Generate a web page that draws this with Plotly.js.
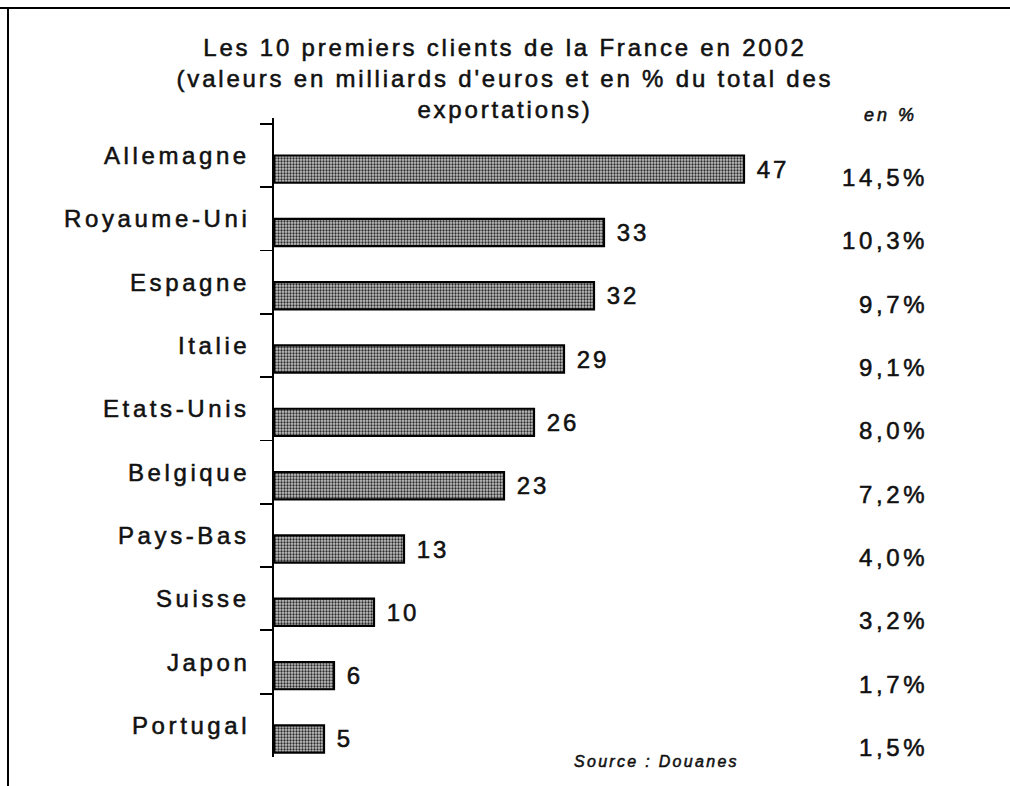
<!DOCTYPE html>
<html>
<head>
<meta charset="utf-8">
<script src="https://cdn.plot.ly/plotly-3.0.1.min.js"></script>
<style>
html,body{margin:0;padding:0;background:#fff;}
#chart{width:1010px;height:786px;}
#chart text{stroke:#111;stroke-width:0.55px;}
</style>
</head>
<body>
<div id="chart"></div>
<script>
var countries = ["Allemagne","Royaume-Uni","Espagne","Italie","Etats-Unis","Belgique","Pays-Bas","Suisse","Japon","Portugal"];
var values = [47,33,32,29,26,23,13,10,6,5];
var shares = ["14,5%","10,3%","9,7%","9,1%","8,0%","7,2%","4,0%","3,2%","1,7%","1,5%"];
var titleLines = ["Les 10 premiers clients de la France en 2002","(valeurs en milliards d'euros et en % du total des","exportations)"];
var shareHeader = "en %";
var sourceText = "Source : Douanes";

var W = 1010, H = 786;
var M = {l:274, r:136, t:118, b:29};
var pw = W - M.l - M.r, ph = H - M.t - M.b;
function px(x){ return (x - M.l)/pw; }
function py(y){ return (H - M.b - y)/ph; }
function sp(t, s){ return '<span style="letter-spacing:' + s + 'px">' + t + '</span>'; }

var font = "Arial, 'Liberation Sans', sans-serif";

var trace = {
  type: 'bar',
  orientation: 'h',
  x: values,
  y: countries,
  offset: 0.0,
  width: 0.43,
  text: values.map(function(v){ return sp('\u00a0' + String(v), 3); }),
  textposition: 'outside',
  textfont: {family: font, size: 24, color: '#111'},
  cliponaxis: false,
  marker: {
    color: '#bdbdbd',
    line: {color: '#000', width: 2.2},
    pattern: {shape: '.', fgcolor: '#2a2a2a', bgcolor: '#c4c4c4', size: 3, solidity: 0.45}
  },
  hoverinfo: 'skip'
};

var ann = [];
countries.forEach(function(c){
  ann.push({xref:'paper', yref:'y', x: px(252), y: c, xanchor:'right', yanchor:'middle',
    yshift: 0, showarrow:false, text: sp(c, 3.6), font:{family:font, size:24, color:'#111'}});
});
countries.forEach(function(c, i){
  ann.push({xref:'paper', yref:'y', x: px(930), y: c, xanchor:'right', yanchor:'middle',
    yshift: -22, showarrow:false, text: sp(shares[i], 3.6), font:{family:font, size:24, color:'#111'}});
});
ann.push({xref:'paper', yref:'paper', x: px(890), y: py(115), xanchor:'center', yanchor:'middle',
  showarrow:false, text: '<i>' + sp(shareHeader, 3) + '</i>', font:{family:font, size:18, color:'#111'}});
ann.push({xref:'paper', yref:'paper', x: px(741), y: py(761), xanchor:'right', yanchor:'middle',
  showarrow:false, text: '<i>' + sp(sourceText, 2.3) + '</i>', font:{family:font, size:16, color:'#111'}});

var layout = {
  width: W, height: H,
  margin: M,
  paper_bgcolor: '#fff', plot_bgcolor: '#fff',
  showlegend: false,
  title: {
    text: titleLines.map(function(t){ return sp(t, 2.8); }).join('<br>'),
    font: {family: font, size: 24, color: '#111'},
    x: 0.5, xref: 'container', xanchor: 'center',
    y: 1 - 56/H, yref: 'container', yanchor: 'top'
  },
  xaxis: {range: [0, 60], visible: false, showgrid: false, zeroline: false, fixedrange: true},
  yaxis: {
    type: 'category', autorange: 'reversed',
    showline: true, linecolor: '#000', linewidth: 1.8,
    ticks: 'outside', tickson: 'boundaries', ticklen: 12, tickwidth: 1.8, tickcolor: '#000',
    showticklabels: false, showgrid: false, zeroline: false, fixedrange: true
  },
  annotations: ann,
  shapes: [
    {type:'line', xref:'paper', yref:'paper', x0: px(0), x1: px(1010), y0: py(8), y1: py(8), line:{color:'#000', width:2}},
    {type:'line', xref:'paper', yref:'paper', x0: px(8), x1: px(8), y0: py(8), y1: py(786), line:{color:'#000', width:2}}
  ]
};

Plotly.newPlot('chart', [trace], layout, {displayModeBar: false, staticPlot: true});
</script>
</body>
</html>
